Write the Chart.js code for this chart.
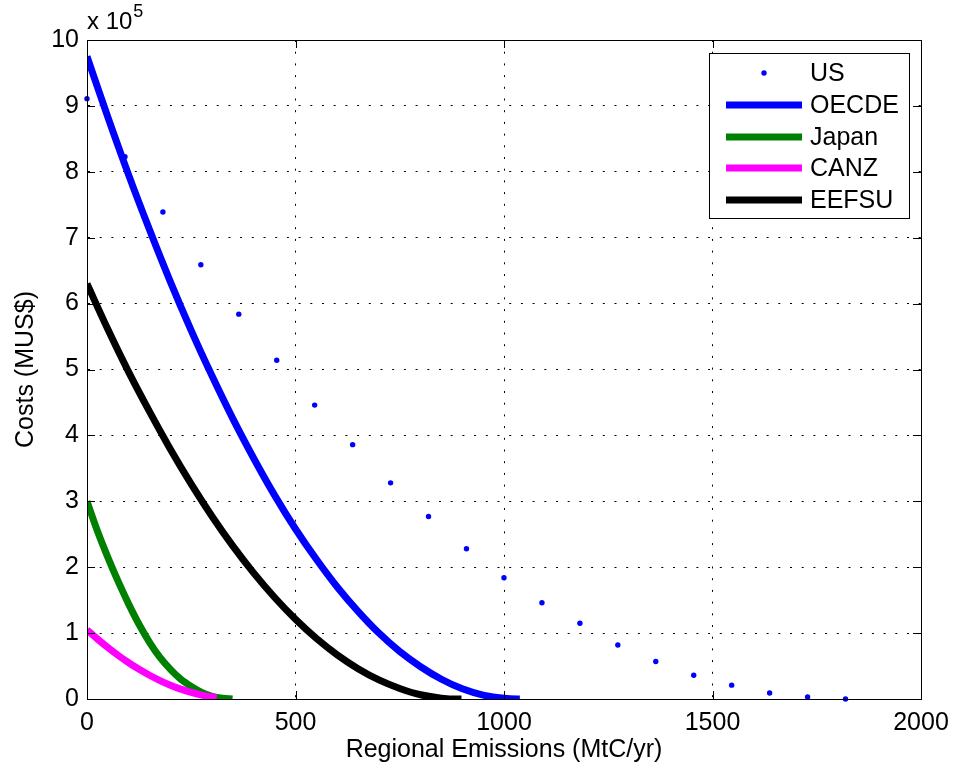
<!DOCTYPE html>
<html>
<head>
<meta charset="utf-8">
<script src="https://cdn.jsdelivr.net/npm/chart.js@4.4.0/dist/chart.umd.min.js"></script>
<style>
html, body { margin: 0; padding: 0; background: #fff; }
#wrap { width: 954px; height: 769px; }
</style>
</head>
<body>
<div id="wrap"><canvas id="c" width="954" height="769"></canvas></div>
<script>
// costs are in units of 10^5 MUS$ (axis multiplier shown top left)
var usX = [0, 91, 182, 273, 364, 455, 546, 637, 728, 819, 910, 1000, 1091, 1182, 1273, 1364, 1455, 1546, 1637, 1728, 1819];
var usY = [9.11, 8.23, 7.39, 6.59, 5.84, 5.14, 4.46, 3.86, 3.28, 2.77, 2.28, 1.84, 1.46, 1.15, 0.82, 0.57, 0.36, 0.21, 0.09, 0.03, 0.0];

var oecdeX = [0, 50, 100, 150, 200, 250, 300, 350, 400, 450, 500, 550, 600, 650, 700, 750, 800, 850, 900, 950, 1000, 1030, 1038];
var oecdeY = [9.75, 8.83, 7.95, 7.12, 6.33, 5.59, 4.90, 4.25, 3.65, 3.09, 2.58, 2.12, 1.70, 1.33, 1.00, 0.72, 0.49, 0.30, 0.155, 0.06, 0.01, 0.0, 0.0];

var japanX = [0, 25, 50, 75, 100, 125, 150, 175, 200, 225, 250, 275, 300, 325, 349];
var japanY = [3.00, 2.55, 2.15, 1.78, 1.44, 1.13, 0.86, 0.63, 0.45, 0.30, 0.19, 0.10, 0.04, 0.01, 0.0];

var canzX = [0, 25, 50, 75, 100, 125, 150, 175, 200, 225, 250, 275, 300, 311];
var canzY = [1.05, 0.91, 0.78, 0.66, 0.55, 0.45, 0.36, 0.28, 0.21, 0.15, 0.10, 0.06, 0.03, 0.02];

var eefsuX = [0, 50, 100, 150, 200, 250, 300, 350, 400, 450, 500, 550, 600, 650, 700, 750, 800, 850, 890, 898];
var eefsuY = [6.30, 5.61, 4.96, 4.36, 3.79, 3.26, 2.77, 2.32, 1.91, 1.54, 1.21, 0.92, 0.67, 0.46, 0.29, 0.16, 0.064, 0.013, 0.0, 0.0];

var xTicks = [0, 500, 1000, 1500, 2000];
var yTicks = [0, 1, 2, 3, 4, 5, 6, 7, 8, 9, 10];

var FONT = '"Liberation Sans", Arial, Helvetica, sans-serif';
var FS = 25;

function pts(xs, ys) {
    var out = [];
    for (var i = 0; i < xs.length; i++) out.push({ x: xs[i], y: ys[i] });
    return out;
}

function lineSet(label, xs, ys, color, order) {
    return {
        label: label,
        data: pts(xs, ys),
        showLine: true,
        borderColor: color,
        backgroundColor: color,
        borderWidth: 7,
        borderCapStyle: 'butt',
        pointRadius: 0,
        pointHoverRadius: 0,
        cubicInterpolationMode: 'monotone',
        clip: 0,
        order: order
    };
}

// MATLAB style box, inward ticks, legend and exponent label
var matlabDecor = {
    id: 'matlabDecor',
    afterDraw: function(chart) {
        var ctx = chart.ctx;
        var a = chart.chartArea;
        var xs = chart.scales.x, ys = chart.scales.y;
        var tl = 8;
        ctx.save();
        ctx.strokeStyle = '#000';
        ctx.lineWidth = 1;
        ctx.beginPath();
        xTicks.forEach(function(v) {
            var px = Math.round(xs.getPixelForValue(v)) + 0.5;
            ctx.moveTo(px, a.bottom); ctx.lineTo(px, a.bottom - tl);
            ctx.moveTo(px, a.top); ctx.lineTo(px, a.top + tl);
        });
        yTicks.forEach(function(v) {
            var py = Math.round(ys.getPixelForValue(v)) + 0.5;
            ctx.moveTo(a.left, py); ctx.lineTo(a.left + tl, py);
            ctx.moveTo(a.right, py); ctx.lineTo(a.right - tl, py);
        });
        ctx.stroke();
        ctx.strokeRect(Math.round(a.left) + 0.5, Math.round(a.top) + 0.5,
            Math.round(a.right - a.left), Math.round(a.bottom - a.top));

        // exponent
        ctx.fillStyle = '#000';
        ctx.textBaseline = 'alphabetic';
        ctx.textAlign = 'left';
        ctx.font = '24px ' + FONT;
        ctx.fillText('x 10', a.left, 29);
        var w = ctx.measureText('x 10').width;
        ctx.font = '18px ' + FONT;
        ctx.fillText('5', a.left + w + 1, 17);

        // legend
        var bx = 709.5, by = 53.5, bw = 200, bh = 165;
        ctx.fillStyle = '#fff';
        ctx.fillRect(bx, by, bw, bh);
        ctx.strokeRect(bx, by, bw, bh);
        var rows = [73, 105, 137, 168, 200];
        var sets = chart.data.datasets;
        ctx.font = FS + 'px ' + FONT;
        ctx.textBaseline = 'middle';
        for (var i = 0; i < sets.length; i++) {
            var ds = sets[i];
            var ry = rows[i];
            if (ds.showLine) {
                ctx.strokeStyle = ds.borderColor;
                ctx.lineWidth = ds.borderWidth;
                ctx.beginPath();
                ctx.moveTo(726, ry); ctx.lineTo(802, ry);
                ctx.stroke();
            } else {
                ctx.fillStyle = ds.backgroundColor;
                ctx.beginPath();
                ctx.arc(764, ry, ds.pointRadius, 0, Math.PI * 2);
                ctx.fill();
            }
            ctx.fillStyle = '#000';
            ctx.fillText(ds.label, 810, ry + 1);
        }
        ctx.restore();
    }
};

new Chart(document.getElementById('c'), {
    type: 'scatter',
    data: {
        datasets: [
            {
                label: 'US',
                data: pts(usX, usY),
                showLine: false,
                pointRadius: 2.7,
                pointHoverRadius: 2.7,
                pointBorderWidth: 0,
                backgroundColor: '#0000ff',
                borderColor: '#0000ff',
                clip: 5,
                order: 5
            },
            lineSet('OECDE', oecdeX, oecdeY, '#0000ff', 4),
            lineSet('Japan', japanX, japanY, '#008000', 3),
            lineSet('CANZ', canzX, canzY, '#ff00ff', 2),
            lineSet('EEFSU', eefsuX, eefsuY, '#000000', 1)
        ]
    },
    options: {
        responsive: false,
        animation: false,
        events: [],
        layout: { padding: { left: 0, top: 40, right: 33, bottom: 0 } },
        plugins: {
            legend: { display: false },
            tooltip: { enabled: false }
        },
        scales: {
            x: {
                type: 'linear',
                min: 0,
                max: 2000,
                afterBuildTicks: function(s) { s.ticks = xTicks.map(function(v) { return { value: v }; }); },
                afterFit: function(s) { s.height = 70; s.paddingLeft = 0; s.paddingRight = 0; },
                ticks: { color: '#000', padding: 9, maxRotation: 0, autoSkip: false, font: { family: FONT, size: FS },
                    callback: function(v) { return String(v); } },
                grid: { color: '#000', lineWidth: 1, drawTicks: false },
                border: { display: true, color: '#000', width: 1, dash: [2, 9.7] },
                title: { display: true, text: 'Regional Emissions (MtC/yr)', color: '#000', font: { family: FONT, size: FS }, padding: { top: 0, bottom: 4 } }
            },
            y: {
                type: 'linear',
                min: 0,
                max: 10,
                afterBuildTicks: function(s) { s.ticks = yTicks.map(function(v) { return { value: v }; }); },
                afterFit: function(s) { s.width = 87; s.paddingTop = 0; s.paddingBottom = 0; },
                ticks: { color: '#000', padding: 8, autoSkip: false, font: { family: FONT, size: FS },
                    callback: function(v) { return String(v); } },
                grid: { color: '#000', lineWidth: 1, drawTicks: false },
                border: { display: true, color: '#000', width: 1, dash: [2, 9.7] },
                title: { display: true, text: 'Costs (MUS$)', color: '#000', font: { family: FONT, size: FS }, padding: { top: 11, bottom: 0 } }
            }
        }
    },
    plugins: [matlabDecor]
});
</script>
</body>
</html>
